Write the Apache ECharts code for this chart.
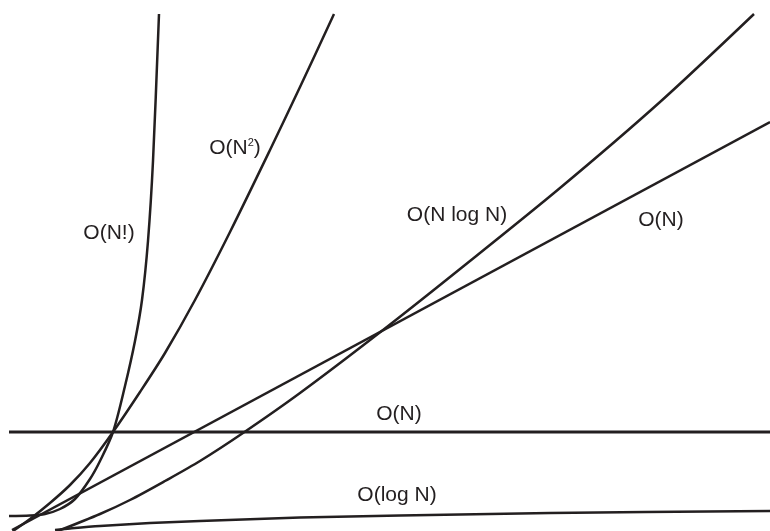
<!DOCTYPE html>
<html>
<head>
<meta charset="utf-8">
<script src="https://cdn.jsdelivr.net/npm/echarts@6/dist/echarts.min.js"></script>
<style>html,body{margin:0;padding:0;background:#fff;}#c{width:770px;height:531px;}</style>
</head>
<body>
<div id="c"></div>
<script>
const factorialN   = [9, 30, 45, 60, 75, 90, 100, 113, 125, 135, 142, 148, 153, 159];
const factorialY   = [15, 15.5, 17, 22, 32, 52, 70, 99, 145, 190, 231, 290, 370, 517];
const squareN      = [13, 30, 50, 70, 90, 113, 140, 165, 195, 230, 270, 300, 334];
const squareY      = [0, 12, 28, 46, 68, 99, 139, 178, 231, 299, 381, 444, 517];
const nlognN       = [58, 100, 130, 165, 200, 243, 300, 383, 460, 560, 660, 754];
const nlognY       = [0, 17, 31, 50, 70, 98, 138, 201, 262, 343, 429, 517];
const linearN      = [12, 770];
const linearY      = [1, 409];
const constantN    = [9, 770];
const constantY    = [99, 99];
const logN         = [55, 70, 100, 150, 200, 300, 400, 550, 770];
const logY         = [1, 2.5, 5, 8, 10, 13.5, 15.5, 18, 20];

const labels = ['O(N!)', 'O(N{s|2})', 'O(N log N)', 'O(N)', 'O(N)', 'O(log N)'];

function pairs(xs, ys) { return xs.map((x, i) => [x, ys[i]]); }

const ink = '#231f20';
const chart = echarts.init(document.getElementById('c'), null, { renderer: 'canvas' });

function curve(name, xs, ys, w, smooth) {
  return {
    name: name, type: 'line', data: pairs(xs, ys), showSymbol: false, silent: true,
    smooth: smooth, clip: true,
    lineStyle: { color: ink, width: w }
  };
}

const font = '21px "Liberation Sans", Arial, sans-serif';
function label(text, x, y) {
  return {
    type: 'text', x: x, y: y,
    style: {
      text: text, fill: ink, font: font, align: 'center', verticalAlign: 'middle',
      rich: { s: { fontSize: 11, fill: ink, verticalAlign: 'top', lineHeight: 11, padding: [0, 0, 9, 0], fontFamily: '"Liberation Sans", Arial, sans-serif' } }
    }
  };
}

chart.setOption({
  animation: false,
  grid: { left: 0, right: 0, top: 0, bottom: 0 },
  xAxis: { type: 'value', min: 0, max: 770, show: false },
  yAxis: { type: 'value', min: 0, max: 531, show: false },
  series: [
    curve('factorial', factorialN, factorialY, 2.5, 0.3),
    curve('square', squareN, squareY, 2.5, 0.3),
    curve('nlogn', nlognN, nlognY, 2.5, 0.3),
    curve('linear', linearN, linearY, 2.5, false),
    curve('constant', constantN, constantY, 3, false),
    curve('log', logN, logY, 2.5, 0.3)
  ],
  graphic: [
    label(labels[0], 109, 233),
    label(labels[1], 235, 148),
    label(labels[2], 457, 215),
    label(labels[3], 661, 220),
    label(labels[4], 399, 414),
    label(labels[5], 397, 495)
  ]
});
</script>
</body>
</html>
